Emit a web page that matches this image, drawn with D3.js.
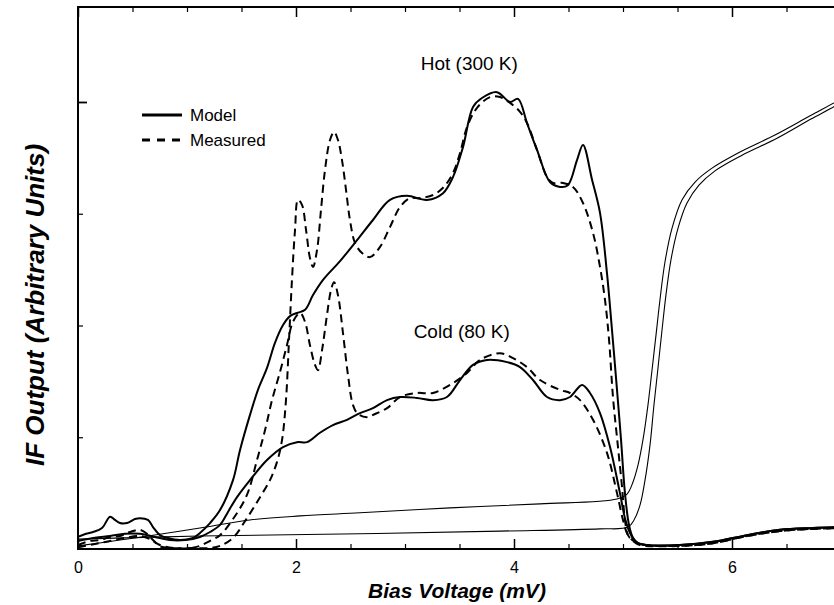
<!DOCTYPE html>
<html>
<head>
<meta charset="utf-8">
<script src="https://cdn.jsdelivr.net/npm/d3@7"></script>
<style>
  html, body { margin: 0; padding: 0; background: #fff; }
  svg { display: block; }
  text { font-family: "Liberation Sans", Arial, Helvetica, sans-serif; fill: #000; }
</style>
</head>
<body>
<svg id="chart" width="834" height="605"></svg>
<script>
// ---- Data (x: bias voltage in mV, y: IF output, arbitrary units) ----
const hotModel = [
  [0,0.027],[0.073,0.034],[0.138,0.038],[0.220,0.047],[0.294,0.072],[0.339,0.065],[0.385,0.058],
  [0.450,0.058],[0.523,0.067],[0.569,0.069],[0.642,0.065],[0.688,0.049],[0.752,0.031],[0.817,0.025],
  [0.936,0.020],[1.055,0.025],[1.119,0.036],[1.211,0.058],[1.303,0.087],[1.422,0.154],[1.486,0.221],
  [1.578,0.300],[1.651,0.356],[1.734,0.405],[1.807,0.461],[1.881,0.501],[1.945,0.521],[2.009,0.528],
  [2.083,0.535],[2.156,0.568],[2.248,0.602],[2.404,0.644],[2.560,0.691],[2.706,0.736],[2.862,0.781],
  [3.018,0.790],[3.202,0.781],[3.349,0.796],[3.440,0.832],[3.532,0.899],[3.624,0.989],[3.706,1.009],
  [3.844,1.022],[3.963,1.000],[4.037,1.007],[4.119,0.953],[4.211,0.893],[4.330,0.821],[4.422,0.810],
  [4.495,0.814],[4.578,0.870],[4.633,0.904],[4.716,0.826],[4.789,0.752],[4.853,0.617],[4.899,0.490],
  [4.945,0.356],[4.982,0.244],[5.018,0.125],[5.055,0.054],[5.092,0.025],[5.138,0.013],[5.220,0.009],
  [5.523,0.009],[5.826,0.016],[6.138,0.031],[6.440,0.043],[6.743,0.047],[7.0,0.049]
];
const hotMeasured = [
  [0,0.009],[0.110,0.018],[0.202,0.020],[0.294,0.027],[0.385,0.029],[0.477,0.038],[0.569,0.043],
  [0.633,0.034],[0.688,0.020],[0.752,0.006],[0.844,0.002],[1.028,0.002],[1.211,0.002],[1.303,0.007],
  [1.422,0.025],[1.550,0.069],[1.670,0.116],[1.761,0.154],[1.826,0.195],[1.872,0.244],[1.908,0.333],
  [1.936,0.468],[1.963,0.602],[1.991,0.714],[2.018,0.781],[2.055,0.770],[2.092,0.714],[2.128,0.651],
  [2.156,0.631],[2.193,0.669],[2.229,0.758],[2.266,0.848],[2.312,0.915],[2.349,0.933],[2.385,0.915],
  [2.422,0.870],[2.459,0.803],[2.495,0.736],[2.541,0.685],[2.606,0.662],[2.679,0.653],[2.771,0.676],
  [2.862,0.720],[2.954,0.765],[3.046,0.785],[3.138,0.785],[3.257,0.792],[3.349,0.808],[3.440,0.841],
  [3.505,0.886],[3.569,0.944],[3.661,0.987],[3.780,1.011],[3.872,1.011],[3.963,0.998],[4.055,0.978],
  [4.119,0.953],[4.211,0.893],[4.303,0.832],[4.358,0.819],[4.450,0.819],[4.541,0.810],[4.633,0.774],
  [4.725,0.707],[4.789,0.631],[4.835,0.557],[4.872,0.468],[4.908,0.340],[4.954,0.228],[4.991,0.139],
  [5.018,0.065],[5.046,0.031],[5.092,0.018],[5.156,0.009],[5.523,0.007],[5.826,0.013],[6.138,0.029],
  [6.440,0.040],[6.743,0.045],[7.0,0.047]
];
const coldModel = [
  [0,0.018],[0.156,0.025],[0.294,0.029],[0.431,0.034],[0.569,0.034],[0.706,0.027],[0.844,0.020],
  [0.982,0.020],[1.119,0.027],[1.211,0.038],[1.303,0.054],[1.376,0.083],[1.459,0.116],[1.578,0.154],
  [1.734,0.199],[1.881,0.228],[2.009,0.239],[2.101,0.239],[2.220,0.260],[2.339,0.277],[2.468,0.289],
  [2.587,0.304],[2.706,0.315],[2.835,0.333],[2.954,0.340],[3.110,0.338],[3.257,0.333],[3.385,0.340],
  [3.505,0.378],[3.624,0.412],[3.752,0.423],[3.936,0.418],[4.055,0.407],[4.174,0.378],[4.303,0.340],
  [4.422,0.333],[4.514,0.340],[4.624,0.367],[4.697,0.349],[4.789,0.304],[4.881,0.228],[4.972,0.125],
  [5.018,0.069],[5.064,0.036],[5.119,0.016],[5.202,0.009],[5.523,0.009],[5.826,0.016],[6.138,0.031],
  [6.440,0.043],[6.743,0.047],[7.0,0.049]
];
const coldMeasured = [
  [0,0.004],[0.156,0.011],[0.294,0.018],[0.431,0.025],[0.569,0.029],[0.661,0.022],[0.752,0.009],
  [0.890,0.002],[1.028,0.002],[1.119,0.007],[1.211,0.018],[1.303,0.031],[1.422,0.067],[1.550,0.121],
  [1.642,0.199],[1.716,0.266],[1.780,0.333],[1.853,0.396],[1.917,0.456],[1.972,0.508],[2.037,0.528],
  [2.083,0.508],[2.128,0.456],[2.174,0.412],[2.202,0.400],[2.239,0.445],[2.284,0.523],[2.321,0.579],
  [2.349,0.597],[2.385,0.568],[2.431,0.483],[2.477,0.389],[2.523,0.322],[2.569,0.302],[2.651,0.295],
  [2.725,0.302],[2.835,0.315],[2.954,0.340],[3.110,0.349],[3.257,0.349],[3.440,0.371],[3.569,0.394],
  [3.688,0.423],[3.872,0.438],[3.991,0.427],[4.119,0.407],[4.239,0.378],[4.422,0.356],[4.514,0.349],
  [4.606,0.333],[4.725,0.289],[4.853,0.215],[4.945,0.125],[5.000,0.065],[5.046,0.031],[5.110,0.016],
  [5.202,0.009],[5.523,0.007],[5.826,0.013],[6.138,0.029],[6.440,0.040],[6.743,0.045],[7.0,0.047]
];
// thin I-V type curves
const ivUpper = [
  [0,0.007],[0.385,0.020],[0.780,0.034],[1.119,0.047],[1.578,0.065],[2.037,0.074],[2.587,0.081],
  [3.413,0.092],[4.239,0.101],[4.945,0.112],[5.037,0.123],[5.092,0.150],[5.138,0.188],[5.183,0.244],
  [5.229,0.322],[5.266,0.400],[5.303,0.479],[5.339,0.557],[5.385,0.642],[5.450,0.718],[5.541,0.781],
  [5.661,0.821],[5.817,0.852],[6.073,0.888],[6.394,0.926],[6.716,0.969],[6.936,0.998],[7.0,1.007]
];
const ivLower = [
  [0,0.022],[1.119,0.029],[2.587,0.034],[3.872,0.040],[4.789,0.045],[5.046,0.049],[5.101,0.065],
  [5.156,0.098],[5.202,0.154],[5.248,0.233],[5.284,0.322],[5.321,0.405],[5.358,0.490],[5.394,0.568],
  [5.440,0.647],[5.505,0.718],[5.587,0.774],[5.697,0.814],[5.844,0.846],[6.092,0.881],[6.413,0.919],
  [6.725,0.962],[6.945,0.991],[7.0,1.000]
];
const xMajorTicks = [0, 2, 4, 6];
const xMinorTicks = [0.5, 1, 1.5, 2.5, 3, 3.5, 4.5, 5, 5.5, 6.5];
const yMajorTicks = [1.0];
const yMinorTicks = [0.25, 0.5, 0.75];
const curveLabels = [
  { text: "Hot (300 K)", x: 3.59, y: 1.087 },
  { text: "Cold (80 K)", x: 3.52, y: 0.488 }
];
const legendItems = [
  { label: "Model", dashed: false },
  { label: "Measured", dashed: true }
];

(function () {
  // ---- Layout ----
  const svg = d3.select("#chart");
  const mLeft = 78, mRight = 841, mTop = 7, mBottom = 549;
  const x = d3.scaleLinear().domain([0, 7]).range([mLeft, mRight]);
  const y = d3.scaleLinear().domain([0, 1.2125]).range([mBottom, mTop]);

  svg.append("defs").append("clipPath").attr("id", "plotclip")
    .append("rect").attr("x", mLeft).attr("y", mTop).attr("width", mRight - mLeft).attr("height", mBottom - mTop + 4);

  const g = svg.append("g");
  const line = d3.line().x(d => x(d[0])).y(d => y(d[1])).curve(d3.curveCatmullRom.alpha(0.5));

  const plot = g.append("g").attr("clip-path", "url(#plotclip)");
  [ivUpper, ivLower].forEach(d => {
    plot.append("path").datum(d).attr("d", line)
      .attr("fill", "none").attr("stroke", "#000").attr("stroke-width", 1.1);
  });
  [hotModel, coldModel].forEach(d => {
    plot.append("path").datum(d).attr("d", line)
      .attr("fill", "none").attr("stroke", "#000").attr("stroke-width", 2)
      .attr("stroke-linejoin", "round");
  });
  [hotMeasured, coldMeasured].forEach(d => {
    plot.append("path").datum(d).attr("d", line)
      .attr("fill", "none").attr("stroke", "#000").attr("stroke-width", 2)
      .attr("stroke-dasharray", "8,5");
  });

  // ---- Frame and axes ----
  const axisG = g.append("g");
  axisG.append("line").attr("x1", mLeft).attr("x2", mLeft).attr("y1", mTop - 1).attr("y2", mBottom + 1)
    .attr("stroke", "#000").attr("stroke-width", 2);
  axisG.append("line").attr("x1", mLeft - 1).attr("x2", mRight).attr("y1", mBottom).attr("y2", mBottom)
    .attr("stroke", "#000").attr("stroke-width", 2.2);
  axisG.append("line").attr("x1", mLeft - 1).attr("x2", mRight).attr("y1", mTop).attr("y2", mTop)
    .attr("stroke", "#000").attr("stroke-width", 2);

  const xb = axisG.append("g").attr("transform", `translate(0,${mBottom})`)
    .call(d3.axisBottom(x).tickValues(xMajorTicks).tickSize(-10).tickFormat(d3.format("d")));
  xb.select(".domain").remove();
  xb.selectAll(".tick line").attr("stroke-width", 1.5);
  xb.selectAll(".tick text").attr("font-size", 16).attr("font-family", "Liberation Sans, Arial, sans-serif")
    .attr("y", 18).attr("dy", "0.36em");
  const xbm = axisG.append("g").attr("transform", `translate(0,${mBottom})`)
    .call(d3.axisBottom(x).tickValues(xMinorTicks).tickSize(-5).tickFormat(""));
  xbm.select(".domain").remove();
  xbm.selectAll(".tick line").attr("stroke-width", 1.2);

  const xt = axisG.append("g").attr("transform", `translate(0,${mTop})`)
    .call(d3.axisTop(x).tickValues(xMajorTicks).tickSize(-10).tickFormat(""));
  xt.select(".domain").remove();
  xt.selectAll(".tick line").attr("stroke-width", 1.5);
  const xtm = axisG.append("g").attr("transform", `translate(0,${mTop})`)
    .call(d3.axisTop(x).tickValues(xMinorTicks).tickSize(-5).tickFormat(""));
  xtm.select(".domain").remove();
  xtm.selectAll(".tick line").attr("stroke-width", 1.2);

  const yl = axisG.append("g").attr("transform", `translate(${mLeft},0)`)
    .call(d3.axisLeft(y).tickValues(yMajorTicks).tickSize(-9).tickFormat(""));
  yl.select(".domain").remove();
  yl.selectAll(".tick line").attr("stroke-width", 1.8);
  const ylm = axisG.append("g").attr("transform", `translate(${mLeft},0)`)
    .call(d3.axisLeft(y).tickValues(yMinorTicks).tickSize(-5).tickFormat(""));
  ylm.select(".domain").remove();
  ylm.selectAll(".tick line").attr("stroke-width", 1.2);

  // ---- Titles ----
  g.append("text").attr("x", 457).attr("y", 598).attr("text-anchor", "middle")
    .attr("font-size", 21).attr("font-weight", "bold").attr("font-style", "italic")
    .text("Bias Voltage (mV)");
  g.append("text").attr("transform", "translate(44,305) rotate(-90)").attr("text-anchor", "middle")
    .attr("font-size", 26).attr("font-weight", "bold").attr("font-style", "italic")
    .text("IF Output (Arbitrary Units)");

  // ---- Curve labels ----
  curveLabels.forEach(l => {
    g.append("text").attr("x", x(l.x)).attr("y", y(l.y)).attr("text-anchor", "middle")
      .attr("dy", "0.35em").attr("font-size", 19).text(l.text);
  });

  // ---- Legend ----
  const lg = g.append("g").attr("transform", "translate(142,115)");
  legendItems.forEach((item, i) => {
    const row = lg.append("g").attr("transform", `translate(0,${i * 25})`);
    row.append("line").attr("x1", 0).attr("x2", 40).attr("y1", 0).attr("y2", 0)
      .attr("stroke", "#000").attr("stroke-width", 3)
      .attr("stroke-dasharray", item.dashed ? "8,7" : null);
    row.append("text").attr("x", 48).attr("y", 0).attr("dy", "0.36em")
      .attr("font-size", 17).text(item.label);
  });
})();
</script>
</body>
</html>
